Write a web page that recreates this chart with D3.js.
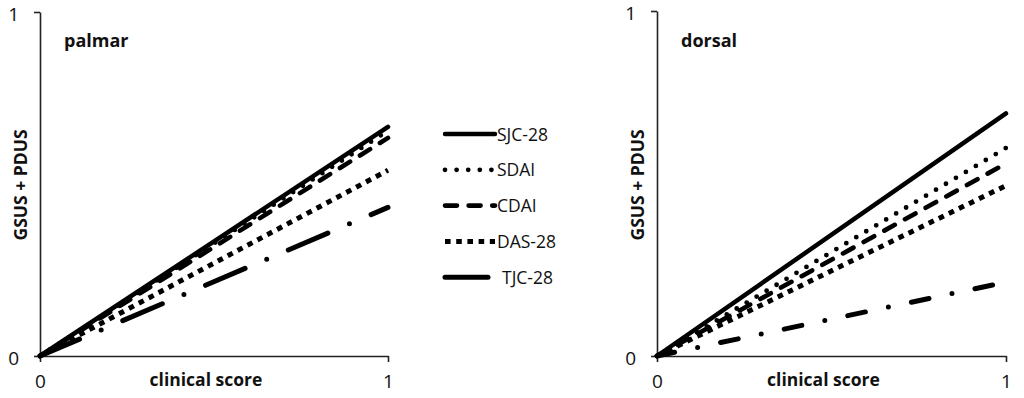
<!DOCTYPE html>
<html><head><meta charset="utf-8">
<script src="https://cdn.jsdelivr.net/npm/d3@7"></script>
<style>body{margin:0;background:#fff}svg{display:block}text{font-family:"Open Sans",sans-serif}</style>
</head><body><svg id="c" width="1024" height="398"></svg>
<script>
// Data
const seriesNames = ["SJC-28", "SDAI", "CDAI", "DAS-28", "TJC-28"];
const xDomain = [0, 1];
const palmarEnd = [0.666, 0.655, 0.634, 0.54, 0.432];
const dorsalEnd = [0.703, 0.603, 0.558, 0.494, 0.214];
const tickValues = [0, 1];
const panelTitles = ["palmar", "dorsal"];

// styles
const styles = {
  "SJC-28": {dash: null, cap: "round", w: 4.5},
  "SDAI": {dash: "0 11.6", cap: "round", w: 4.8},
  "CDAI": {dash: "12 11.6", cap: "round", w: 4.6},
  "DAS-28": {dash: "5.6 5.6", cap: "butt", w: 5},
  "TJC-28": {dash: "43 23.5 0 23.5", cap: "round", w: 5}
};
const tjcDash = ["43 23.5 0 23.5", "18 23.5 0 23.5"];

const svg = d3.select("#c");
const panels = [
  {left: 40, right: 388, top: 12, bottom: 356, ends: palmarEnd, title: panelTitles[0]},
  {left: 657, right: 1006, top: 11, bottom: 356, ends: dorsalEnd, title: panelTitles[1]}
];

panels.forEach((p, pi) => {
  const x = d3.scaleLinear().domain(xDomain).range([p.left, p.right]);
  const y = d3.scaleLinear().domain([0, 1]).range([p.bottom, p.top]);
  const g = svg.append("g");

  const ya = g.append("g").attr("transform", `translate(${p.left},0)`)
    .call(d3.axisLeft(y).tickValues(tickValues).tickSize(6).tickSizeOuter(0).tickPadding(15).tickFormat(d3.format("d")));
  const xa = g.append("g").attr("transform", `translate(0,${p.bottom})`)
    .call(d3.axisBottom(x).tickValues(tickValues).tickSize(6).tickSizeOuter(0).tickPadding(13).tickFormat(d3.format("d")));
  [ya, xa].forEach(a => {
    a.select(".domain").attr("stroke", "#222").attr("stroke-width", 1.6);
    a.selectAll(".tick line").attr("stroke", "#222").attr("stroke-width", 1.6);
    a.selectAll(".tick text").attr("font-size", 19).attr("fill", "#111").attr("font-family", "Open Sans, sans-serif");
  });
  ya.selectAll(".tick text").attr("dy", "0.45em");

  const line = d3.line().x(d => x(d[0])).y(d => y(d[1]));
  seriesNames.forEach((name, i) => {
    const s = styles[name];
    const pts = [[xDomain[0], 0], [xDomain[1], p.ends[i]]];
    const dash = name === "TJC-28" ? tjcDash[pi] : s.dash;
    g.append("path").attr("d", line(pts)).attr("fill", "none").attr("stroke", "#000")
      .attr("stroke-width", s.w).attr("stroke-linecap", s.cap)
      .attr("stroke-dasharray", dash);
  });

  g.append("text").attr("x", p.left + 24).attr("y", 47).attr("font-weight", 700)
    .attr("font-size", 18).attr("fill", "#111").text(p.title);
  g.append("text").attr("x", (p.left + p.right) / 2 - 8).attr("y", 386).attr("text-anchor", "middle")
    .attr("font-weight", 700).attr("font-size", 17.5).attr("fill", "#111").text("clinical score");
  g.append("text").attr("transform", `translate(${p.left - 13},${185}) rotate(-90)`)
    .attr("text-anchor", "middle").attr("font-weight", 700).attr("font-size", 17.5).attr("fill", "#111")
    .text("GSUS + PDUS");
});

// legend
const lg = svg.append("g");
seriesNames.forEach((name, i) => {
  const s = styles[name];
  const yy = 134 + i * 35.8;
  const x1 = name === "TJC-28" ? 488 : 495;
  lg.append("line").attr("x1", 445).attr("x2", x1).attr("y1", yy).attr("y2", yy)
    .attr("stroke", "#000").attr("stroke-width", s.w).attr("stroke-linecap", s.cap)
    .attr("stroke-dasharray", name === "TJC-28" ? "43 23.5 0 23.5" : s.dash);
  lg.append("text").attr("x", name === "TJC-28" ? 502 : 497).attr("y", yy + 6.5).attr("font-size", 17.5)
    .attr("fill", "#111").text(name);
});
</script></body></html>
